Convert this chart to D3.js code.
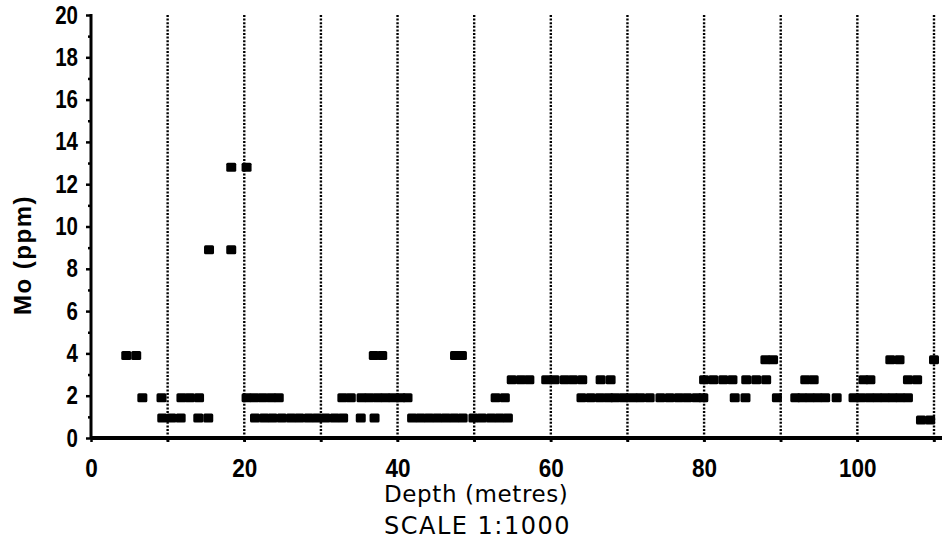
<!DOCTYPE html>
<html>
<head>
<meta charset="utf-8">
<script src="https://cdn.jsdelivr.net/npm/d3@7"></script>
<style>
  body { margin: 0; background: #fff; }
  svg { display: block; }
  .tick text { font-family: "Liberation Sans", Arial, sans-serif; font-weight: bold; font-size: 25px; fill: #000; }
  .tick line { stroke: #000; stroke-width: 2.5; }
</style>
</head>
<body>
<svg id="chart"></svg>
<script>
// Mo (ppm), one depth list per concentration level
const level128 = [18.3, 20.3];
const level89 = [15.4, 18.3];
const level39 = [4.6, 5.9, 36.9, 38.0, 47.5, 48.4];
const level37 = [88.0, 89.0, 104.3, 105.5, 110.0];
const level275 = [54.9, 56.1, 57.2, 59.4, 60.5, 61.8, 62.9, 64.1, 66.5, 67.8,
  80.0, 81.2, 82.5, 83.7, 85.5, 86.8, 88.1, 93.2, 94.3, 100.8, 101.7, 106.6, 107.8];
const level19 = [6.7, 9.2, 11.8, 12.9, 14.1, 20.3, 21.3, 22.4, 23.5, 24.5,
  32.8, 33.9, 35.3, 36.3, 37.4, 38.4, 39.4, 40.4, 41.3, 52.8, 54.0,
  64.0, 65.2, 66.4, 67.5, 68.4, 69.5, 70.7, 71.7, 72.9, 74.3, 75.5, 76.7, 77.8, 79.0, 79.9,
  84.0, 85.4, 89.5, 91.9, 92.8, 93.8, 94.8, 95.8, 97.3,
  99.5, 100.5, 101.6, 102.6, 103.6, 104.6, 105.6, 106.6];
const level095 = [9.3, 10.5, 11.7, 14.0, 15.3, 21.4, 22.6, 23.7, 24.9, 26.1, 27.2,
  28.4, 29.5, 30.6, 31.8, 32.9, 35.2, 37.0, 41.9, 43.0, 44.1, 45.2, 46.3, 47.4, 48.5,
  49.9, 51.0, 52.2, 53.3, 54.4];
const level085 = [108.3, 109.5];

const levels = [12.8, 8.9, 3.9, 3.7, 2.75, 1.9, 0.95, 0.85];
const depthLists = [level128, level89, level39, level37, level275, level19, level095, level085];

const gridDepths = [10, 20, 30, 40, 50, 60, 70, 80, 90, 100, 110];
const xTickLabels = [0, 20, 40, 60, 80, 100];
const yTickLabels = [0, 2, 4, 6, 8, 10, 12, 14, 16, 18, 20];

let width = 944, height = 548;
let margin = {left: 91, top: 15, right: 10, bottom: 110};
let svg = d3.select("#chart").attr("width", width).attr("height", height);

let x = d3.scaleLinear().domain([0, 110]).range([margin.left, 934]);
let y = d3.scaleLinear().domain([0, 20]).range([height - margin.bottom, margin.top]);

let points = [];
depthLists.forEach(function(list, i){
  list.forEach(function(d){ points.push({depth: d, mo: levels[i]}); });
});

// dotted grid
svg.append("g").selectAll("line")
  .data(gridDepths)
  .enter()
  .append("line")
  .attr("x1", d => x(d)).attr("x2", d => x(d))
  .attr("y1", y(20)).attr("y2", y(0) + 4)
  .attr("stroke", "#000")
  .attr("stroke-width", 2.4)
  .attr("stroke-dasharray", "2,1.6");

// y axis: labelled even ticks + small odd ticks
let yAxis = svg.append("g").attr("transform", "translate(" + margin.left + ",0)")
  .call(d3.axisLeft(y).tickValues(yTickLabels).tickSize(5).tickPadding(3));
yAxis.selectAll(".tick text").attr("x", -13 / 0.82).attr("transform", "scale(0.82,1)");
yAxis.select(".domain").remove();
svg.append("g").attr("transform", "translate(" + margin.left + ",0)")
  .call(d3.axisLeft(y).tickValues(d3.range(1, 20, 2)).tickSize(3).tickFormat(""))
  .select(".domain").remove();

// x axis
let xAxis = svg.append("g").attr("transform", "translate(0," + y(0) + ")")
  .call(d3.axisBottom(x).tickValues([0].concat(gridDepths)).tickSize(4).tickPadding(17)
    .tickFormat(d => xTickLabels.includes(d) ? d : ""));
xAxis.selectAll(".tick text").attr("transform", "scale(0.9,1)");
xAxis.select(".domain").remove();

svg.append("line")
  .attr("x1", margin.left).attr("x2", 942)
  .attr("y1", y(0)).attr("y2", y(0))
  .attr("stroke", "#000").attr("stroke-width", 4);
svg.append("line")
  .attr("x1", margin.left).attr("x2", margin.left)
  .attr("y1", y(20) - 1).attr("y2", y(0))
  .attr("stroke", "#000").attr("stroke-width", 3);

// sample markers
svg.append("g").selectAll("rect")
  .data(points)
  .enter()
  .append("rect")
  .attr("x", d => x(d.depth) - 5)
  .attr("y", d => y(d.mo) - 4.5)
  .attr("width", 10)
  .attr("height", 9)
  .attr("rx", 1.5)
  .attr("fill", "#000");

// titles
svg.append("text")
  .attr("x", 384).attr("y", 502)
  .style("font-family", "'DejaVu Sans', sans-serif")
  .style("font-size", "23px")
  .style("letter-spacing", "0.6px")
  .text("Depth (metres)");
svg.append("text")
  .attr("x", 384).attr("y", 534)
  .style("font-family", "'DejaVu Sans', sans-serif")
  .style("font-size", "24px")
  .style("letter-spacing", "1.5px")
  .text("SCALE 1:1000");
svg.append("text")
  .attr("transform", "translate(31,255) rotate(-90)")
  .attr("text-anchor", "middle")
  .style("font-family", "'Liberation Sans', Arial, sans-serif")
  .style("font-weight", "bold")
  .style("font-size", "24px")
  .style("letter-spacing", "1.5px")
  .text("Mo (ppm)");
</script>
</body>
</html>
